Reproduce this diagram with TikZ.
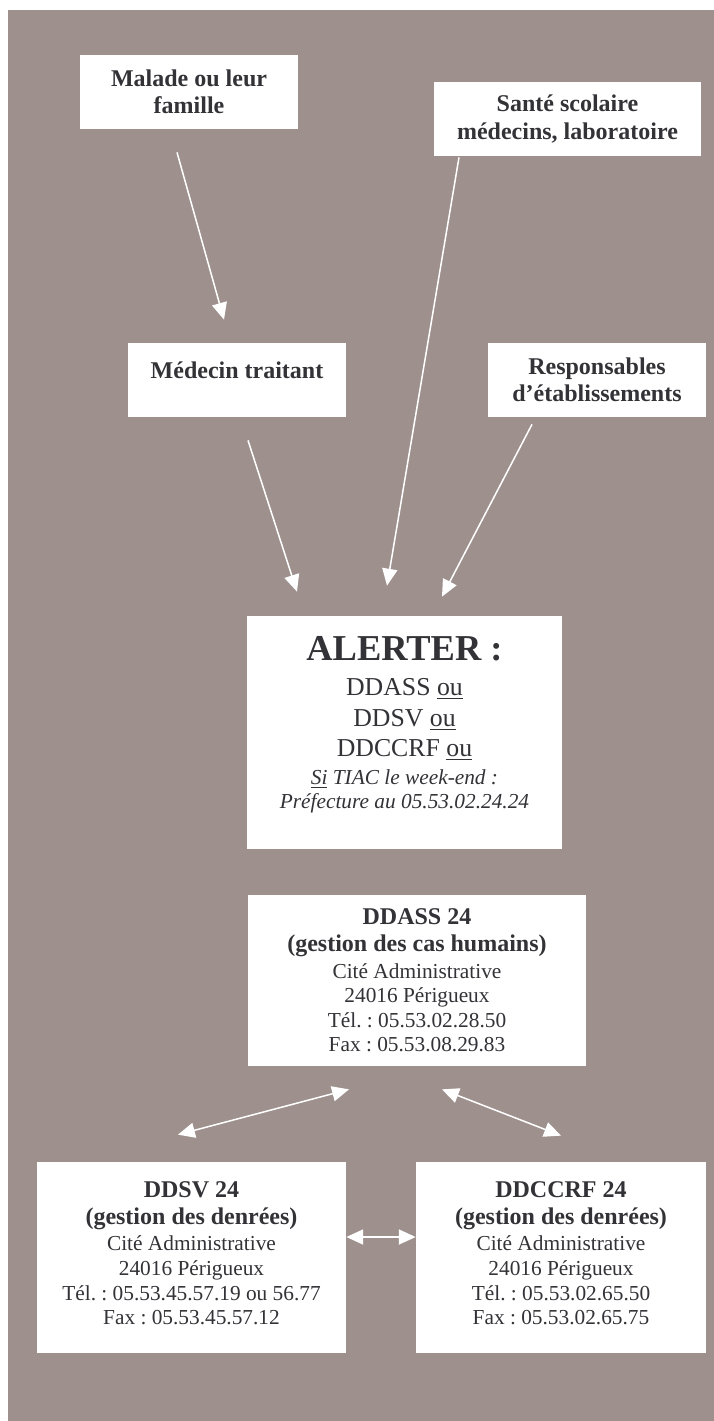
\documentclass[tikz,border=0pt]{standalone}
\usepackage{fontspec}
\setmainfont{Liberation Serif}
\usetikzlibrary{arrows.meta,calc}
\frenchspacing

\definecolor{fond}{RGB}{158,145,141}
\definecolor{encre}{RGB}{50,50,55}
\newcommand{\pxu}{0.5625pt}
\newcommand{\gras}{\fontsize{13.5}{15.5}\selectfont\bfseries}

\begin{document}
\begin{tikzpicture}[x=\pxu,y=-\pxu,>={Triangle[length=9.5pt,width=8.5pt]},
  boite/.style 2 args={fill=white,text=encre,align=center,inner sep=0pt,
    minimum width=#1*\pxu,minimum height=#2*\pxu,font=\fontsize{12}{13.8}\selectfont},
  titre/.style={font=\gras},
  fleche/.style={draw=white,line width=0.85pt}]

\useasboundingbox (0,0) rectangle (714,1421);
\fill[fond] (8,10) rectangle (714,1421);

\node[boite={218}{74},titre](malade) at (189,92){Malade ou leur\\famille};
\node[boite={267}{74},titre](sante) at (567.5,119){Santé scolaire\\médecins, laboratoire};
\node[boite={218}{74},titre,text depth=11pt](medecin) at (237,380){Médecin traitant};
\node[boite={218}{74},titre](respons) at (597,380){Responsables\\d’établissements};
\node[boite={315}{233},text depth=11pt](alerter) at (404.5,732.5){%
  {\fontsize{20.5}{23}\selectfont\bfseries ALERTER :}\\[5.9pt]
  {\fontsize{14.5}{16.7}\selectfont DDASS \underline{ou}}\\[3.4pt]
  {\fontsize{14.5}{16.7}\selectfont DDSV \underline{ou}}\\[3.4pt]
  {\fontsize{14.5}{16.7}\selectfont DDCCRF \underline{ou}}\\[1.7pt]
  {\itshape \underline{Si} TIAC le week-end :}\\
  {\itshape Préfecture au 05.53.02.24.24}};
\node[boite={338}{171}](ddass) at (417,980.5){%
  {\gras DDASS 24}\\[1.5pt]{\gras (gestion des cas humains)}\\[1pt]
  Cité Administrative\\24016 Périgueux\\Tél. : 05.53.02.28.50\\Fax : 05.53.08.29.83};
\node[boite={309}{191},text depth=5pt](ddsv) at (191.5,1257.5){%
  {\gras DDSV 24}\\[1.5pt]{\gras (gestion des denrées)}\\[1pt]
  Cité Administrative\\24016 Périgueux\\Tél. : 05.53.45.57.19 ou 56.77\\Fax : 05.53.45.57.12};
\node[boite={290}{191},text depth=5pt](ddccrf) at (561,1257.5){%
  {\gras DDCCRF 24}\\[1.5pt]{\gras (gestion des denrées)}\\[1pt]
  Cité Administrative\\24016 Périgueux\\Tél. : 05.53.02.65.50\\Fax : 05.53.02.65.75};

\draw[fleche,->] ($(malade.south)+(-12,23)$) -- ($(medecin.north)+(-13,-23)$);
\draw[fleche,->] ($(medecin.south)+(11,23)$) -- ($(alerter.north)+(-107.5,-24)$);
\draw[fleche,->] ($(sante.south)+(-108.5,1)$) -- ($(alerter.north)+(-17.5,-30)$);
\draw[fleche,->] ($(respons.south)+(-65,7)$) -- ($(alerter.north)+(37.5,-19)$);
\draw[fleche,<->] ($(ddass.south)+(-68,23)$) -- ($(ddsv.north)+(-13.5,-27)$);
\draw[fleche,<->] ($(ddass.south)+(25,23)$) -- ($(ddccrf.north)+(0,-26)$);
\draw[fleche,<->] ($(ddsv.east)+(0,-20.5)$) -- ($(ddccrf.west)+(0,-20.5)$);

\end{tikzpicture}
\end{document}
